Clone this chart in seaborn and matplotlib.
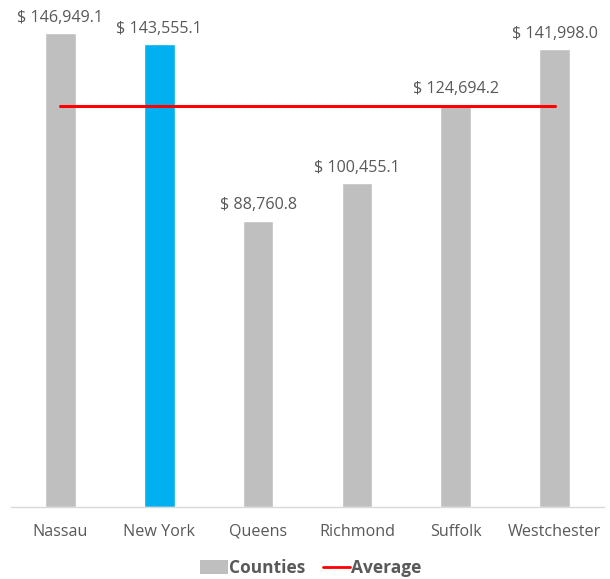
import numpy as np
import pandas as pd
import seaborn as sns
import matplotlib.pyplot as plt
from matplotlib.patches import Patch
from matplotlib.lines import Line2D

# data
counties = ['Nassau', 'New York', 'Queens', 'Richmond', 'Suffolk', 'Westchester']
values = [146949.1, 143555.1, 88760.8, 100455.1, 124694.2, 141998.0]
highlight = 'New York'

df = pd.DataFrame({'county': counties, 'value': values})
avg = np.mean(values)

sns.set_theme(style='white')
plt.rcParams['font.family'] = ['Open Sans', 'DejaVu Sans']

fig = plt.figure(figsize=(6.1, 5.79), dpi=100)
ax = fig.add_axes([11 / 610, 0.1244, 593 / 610, 0.8756])

colors = {c: ('#00B0F0' if c == highlight else '#BFBFBF') for c in counties}
sns.barplot(data=df, x='county', y='value', hue='county', palette=colors,
            width=0.31, legend=False, ax=ax, saturation=1)

ax.plot([0, len(counties) - 1], [avg, avg], color='#FF0000', lw=2.2, zorder=3)

for i, v in enumerate(values):
    ax.text(i, v + 2300, '$ {:,.1f}'.format(v), ha='center', va='bottom',
            fontsize=11.6, color='#595959')

ax.set_xlim(-0.5, len(counties) - 0.5)
ax.set_ylim(0, 157200)
ax.set_yticks([])
ax.set_xlabel('')
ax.set_ylabel('')
for s in ['top', 'right', 'left']:
    ax.spines[s].set_visible(False)
ax.spines['bottom'].set_color('#D9D9D9')
ax.spines['bottom'].set_linewidth(1)
ax.tick_params(axis='x', length=0, pad=12, labelsize=11.6, labelcolor='#595959')

handles = [Patch(facecolor='#BFBFBF', edgecolor='none'),
           Line2D([0], [0], color='#FF0000', lw=2)]
leg = fig.legend(handles, ['Counties', 'Average'], loc='center', bbox_to_anchor=(0.51, 0.019),
                 ncol=2, frameon=False, handlelength=1.6, handleheight=0.8, handletextpad=0.05,
                 columnspacing=1.0, prop={'weight': 'bold', 'size': 12.5})
for t in leg.get_texts():
    t.set_color('#595959')

fig.savefig('out.png', dpi=100)
